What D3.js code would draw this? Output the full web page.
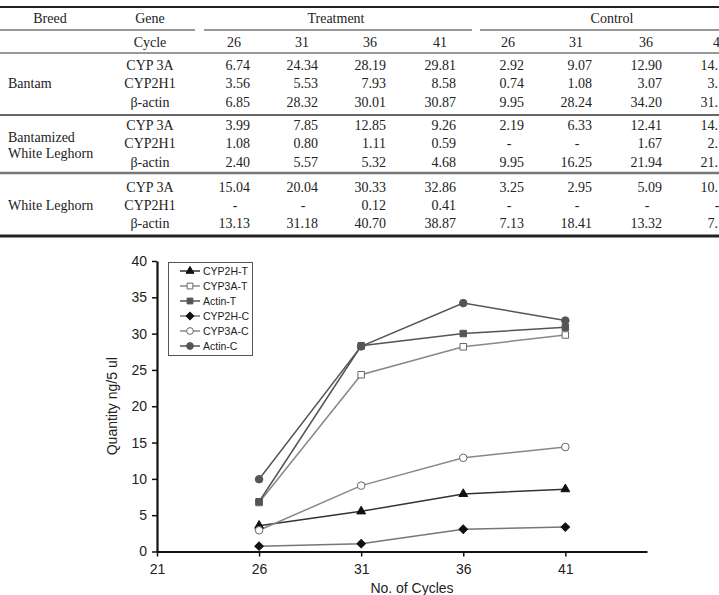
<!DOCTYPE html>
<html>
<head>
<meta charset="utf-8">
<script src="https://cdn.jsdelivr.net/npm/d3@7"></script>
<style>
  body { margin: 0; background: #fff; overflow: hidden; }
  svg { display: block; }
</style>
</head>
<body>
<div id="fig"></div>
<script>
// table data
const breeds = [["Bantam"], ["Bantamized", "White Leghorn"], ["White Leghorn"]];
const genes = ["CYP 3A", "CYP2H1", "β-actin"];
const cycleLabels = ["26", "31", "36", "41"];
const treatmentRows = [
  ["6.74", "24.34", "28.19", "29.81"],
  ["3.56", "5.53", "7.93", "8.58"],
  ["6.85", "28.32", "30.01", "30.87"],
  ["3.99", "7.85", "12.85", "9.26"],
  ["1.08", "0.80", "1.11", "0.59"],
  ["2.40", "5.57", "5.32", "4.68"],
  ["15.04", "20.04", "30.33", "32.86"],
  ["-", "-", "0.12", "0.41"],
  ["13.13", "31.18", "40.70", "38.87"]
];
// last column is cut off by the page edge
const controlRows = [
  ["2.92", "9.07", "12.90", "14."],
  ["0.74", "1.08", "3.07", "3."],
  ["9.95", "28.24", "34.20", "31."],
  ["2.19", "6.33", "12.41", "14."],
  ["-", "-", "1.67", "2."],
  ["9.95", "16.25", "21.94", "21."],
  ["3.25", "2.95", "5.09", "10."],
  ["-", "-", "-", "-"],
  ["7.13", "18.41", "13.32", "7."]
];

// chart data
const cycles = [26, 31, 36, 41];
const seriesNames = ["CYP2H-T", "CYP3A-T", "Actin-T", "CYP2H-C", "CYP3A-C", "Actin-C"];
const cyp2hT = [3.56, 5.53, 7.93, 8.58];
const cyp3aT = [6.74, 24.34, 28.19, 29.81];
const actinT = [6.85, 28.32, 30.01, 30.87];
const cyp2hC = [0.74, 1.08, 3.07, 3.36];
const cyp3aC = [2.92, 9.07, 12.90, 14.39];
const actinC = [9.95, 28.24, 34.20, 31.80];
const yTicks = [0, 5, 10, 15, 20, 25, 30, 35, 40];
const xTicks = [21, 26, 31, 36, 41];

const width = 719, height = 595;
const svg = d3.select("#fig").append("svg")
  .attr("width", width)
  .attr("height", height);

// ---------- table ----------
const tbl = svg.append("g")
  .attr("font-family", "'Liberation Serif', 'Times New Roman', serif")
  .attr("font-size", 14)
  .attr("fill", "#222");

const colRight = [250, 318, 386, 456, 524, 592, 662, 732];
const rowBase = [70, 88, 107, 130, 148, 167, 192, 210, 228];

function hline(x1, x2, y, w, c) {
  tbl.append("line")
    .attr("x1", x1).attr("x2", x2)
    .attr("y1", y).attr("y2", y)
    .attr("stroke", c).attr("stroke-width", w);
}
hline(0, width, 7, 2, "#222");
hline(0, 195, 30, 1, "#333");
hline(204, 472, 30, 1, "#333");
hline(480, width, 30, 1, "#333");
hline(0, width, 53, 1, "#333");
hline(0, width, 115, 1.5, "#333");
hline(0, width, 173, 2.5, "#777");
hline(0, width, 236, 3, "#222");

tbl.append("text").attr("x", 50).attr("y", 23).attr("text-anchor", "middle").text("Breed");
tbl.append("text").attr("x", 150).attr("y", 23).attr("text-anchor", "middle").text("Gene");
tbl.append("text").attr("x", 150).attr("y", 47).attr("text-anchor", "middle").text("Cycle");
tbl.append("text").attr("x", 336).attr("y", 23).attr("text-anchor", "middle").text("Treatment");
tbl.append("text").attr("x", 612).attr("y", 23).attr("text-anchor", "middle").text("Control");

colRight.forEach((r, i) => {
  const shift = i === 7 ? 4 : 0; // last header is half off the page
  tbl.append("text").attr("x", r - 16 + shift).attr("y", 47)
    .attr("text-anchor", "middle")
    .text(cycleLabels[i % 4]);
});

// breed labels
const breedY = [[88], [142, 158], [210]];
breeds.forEach((lines, i) => {
  lines.forEach((l, j) => {
    tbl.append("text").attr("x", 8).attr("y", breedY[i][j]).text(l);
  });
});

rowBase.forEach((y, r) => {
  tbl.append("text").attr("x", 150).attr("y", y)
    .attr("text-anchor", "middle").text(genes[r % 3]);
  const vals = treatmentRows[r].concat(controlRows[r]);
  vals.forEach((v, c) => {
    if (v === "-") {
      tbl.append("text").attr("x", colRight[c] - 15).attr("y", y)
        .attr("text-anchor", "middle").text("-");
      return;
    }
    const t = tbl.append("text").attr("x", colRight[c]).attr("y", y)
      .attr("text-anchor", "end");
    t.append("tspan").text(v);
    if (v.endsWith(".")) t.append("tspan").attr("fill", "none").text("00");
  });
});

// ---------- line chart ----------
const x = d3.scaleLinear().domain([21, 45]).range([157, 647]);
const y = d3.scaleLinear().domain([0, 40]).range([551.5, 261]);

const chart = svg.append("g")
  .attr("font-family", "'Liberation Sans', Arial, sans-serif");

const yAxis = chart.append("g")
  .attr("transform", `translate(${x(21)},0)`)
  .call(d3.axisLeft(y).tickValues(yTicks).tickSize(5).tickSizeOuter(0).tickPadding(5));
const xAxis = chart.append("g")
  .attr("transform", `translate(0,${y(0)})`)
  .call(d3.axisBottom(x).tickValues(xTicks).tickSize(5).tickSizeOuter(0).tickPadding(8));

[yAxis, xAxis].forEach(a => {
  a.select(".domain").attr("stroke", "#111").attr("stroke-width", 2.2);
  a.selectAll(".tick line").attr("stroke", "#111").attr("stroke-width", 1.5);
  a.selectAll(".tick text").attr("font-size", 14).attr("fill", "#222")
    .attr("font-family", "'Liberation Sans', Arial, sans-serif");
});

chart.append("text")
  .attr("transform", `translate(117,${(y(0) + y(40)) / 2}) rotate(-90)`)
  .attr("text-anchor", "middle")
  .attr("font-size", 14).attr("fill", "#222")
  .text("Quantity ng/5 ul");
chart.append("text")
  .attr("x", 412).attr("y", 593)
  .attr("text-anchor", "middle")
  .attr("font-size", 14).attr("fill", "#222")
  .text("No. of Cycles");

// diamond as a square turned 45 degrees
const series = [
  { name: seriesNames[0], values: cyp2hT, line: "#333", shape: d3.symbolTriangle, fill: "#111", stroke: "#111", size: 34, rot: 0 },
  { name: seriesNames[1], values: cyp3aT, line: "#888", shape: d3.symbolSquare, fill: "#fff", stroke: "#666", size: 42, rot: 0 },
  { name: seriesNames[2], values: actinT, line: "#555", shape: d3.symbolSquare, fill: "#555", stroke: "#555", size: 42, rot: 0 },
  { name: seriesNames[3], values: cyp2hC, line: "#777", shape: d3.symbolSquare, fill: "#111", stroke: "#111", size: 36, rot: 45 },
  { name: seriesNames[4], values: cyp3aC, line: "#888", shape: d3.symbolCircle, fill: "#fff", stroke: "#666", size: 45, rot: 0 },
  { name: seriesNames[5], values: actinC, line: "#555", shape: d3.symbolCircle, fill: "#555", stroke: "#555", size: 45, rot: 0 }
];

const line = d3.line().x((d, i) => x(cycles[i])).y(d => y(d));

series.forEach(s => {
  chart.append("path")
    .attr("d", line(s.values))
    .attr("fill", "none")
    .attr("stroke", s.line)
    .attr("stroke-width", 1.5);
});
series.forEach(s => {
  chart.selectAll(null)
    .data(s.values)
    .enter()
    .append("path")
    .attr("transform", (d, i) => `translate(${x(cycles[i])},${y(d)}) rotate(${s.rot})`)
    .attr("d", d3.symbol().type(s.shape).size(s.size))
    .attr("fill", s.fill)
    .attr("stroke", s.stroke)
    .attr("stroke-width", 1);
});

// legend
const lg = chart.append("g");
lg.append("rect")
  .attr("x", 168.5).attr("y", 262.5)
  .attr("width", 84).attr("height", 93)
  .attr("fill", "#fff").attr("stroke", "#555");
series.forEach((s, i) => {
  const ly = 271 + i * 15;
  lg.append("line")
    .attr("x1", 180).attr("x2", 200).attr("y1", ly).attr("y2", ly)
    .attr("stroke", s.line).attr("stroke-width", 1.5);
  lg.append("path")
    .attr("transform", `translate(190,${ly}) rotate(${s.rot})`)
    .attr("d", d3.symbol().type(s.shape).size(s.size * 0.8))
    .attr("fill", s.fill).attr("stroke", s.stroke);
  lg.append("text")
    .attr("x", 203).attr("y", ly + 3.5)
    .attr("font-size", 10.5).attr("fill", "#222")
    .text(s.name);
});
</script>
</body>
</html>
